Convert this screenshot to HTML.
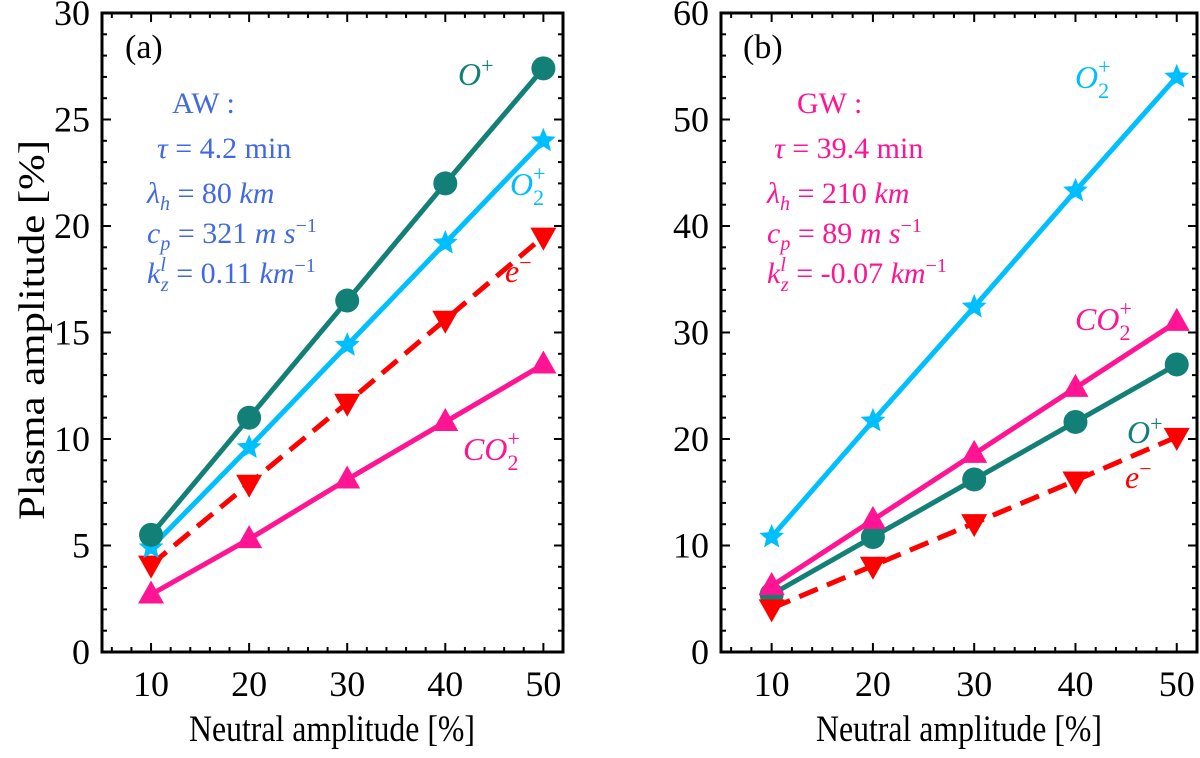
<!DOCTYPE html>
<html><head><meta charset="utf-8"><style>
body{margin:0;background:#fff;font-family:"Liberation Serif","DejaVu Serif",serif;}
svg, svg text{font-family:"Liberation Serif","DejaVu Serif",serif;}
</style></head><body>
<svg id="chart" width="1200" height="753" viewBox="0 0 1200 753" xmlns="http://www.w3.org/2000/svg" font-family="Liberation Serif, DejaVu Serif, serif">
<g id="pa"></g>
<g id="pb"></g>
<text x="0" y="0" font-size="37" text-anchor="middle" textLength="380" lengthAdjust="spacingAndGlyphs" transform="translate(44,330) rotate(-90)">Plasma amplitude [%]</text>
<text x="332" y="741" font-size="37" text-anchor="middle" textLength="286" lengthAdjust="spacingAndGlyphs">Neutral amplitude [%]</text>
<text x="959" y="741" font-size="37" text-anchor="middle" textLength="286" lengthAdjust="spacingAndGlyphs">Neutral amplitude [%]</text>
<g fill="#4169e1" font-size="30">
<text x="125" y="58" fill="#000" font-size="34">(a)</text>
<text x="172" y="113">AW :</text>
<text x="157" y="158"><tspan font-style="italic">τ</tspan> = 4.2 min</text>
<text x="147" y="203"><tspan font-style="italic">λ</tspan><tspan font-style="italic" font-size="20" dy="7">h</tspan><tspan dy="-7"> = 80 </tspan><tspan font-style="italic">km</tspan></text>
<text x="147" y="243"><tspan font-style="italic">c</tspan><tspan font-style="italic" font-size="20" dy="7">p</tspan><tspan dy="-7"> = 321 </tspan><tspan font-style="italic">m s</tspan><tspan font-size="20" dy="-11">−1</tspan></text>
<text x="147" y="283"><tspan font-style="italic">k</tspan><tspan font-style="italic" font-size="20" dy="-12">l</tspan><tspan font-style="italic" font-size="20" dx="-5" dy="20">z</tspan><tspan dy="-8"> = 0.11 </tspan><tspan font-style="italic">km</tspan><tspan font-size="20" dy="-11">−1</tspan></text>
</g>
<g fill="#ff1493" font-size="30">
<text x="743" y="58" fill="#000" font-size="34">(b)</text>
<text x="797" y="113">GW :</text>
<text x="774" y="158"><tspan font-style="italic">τ</tspan> = 39.4 min</text>
<text x="767" y="203"><tspan font-style="italic">λ</tspan><tspan font-style="italic" font-size="20" dy="7">h</tspan><tspan dy="-7"> = 210 </tspan><tspan font-style="italic">km</tspan></text>
<text x="767" y="243"><tspan font-style="italic">c</tspan><tspan font-style="italic" font-size="20" dy="7">p</tspan><tspan dy="-7"> = 89 </tspan><tspan font-style="italic">m s</tspan><tspan font-size="20" dy="-11">−1</tspan></text>
<text x="767" y="283"><tspan font-style="italic">k</tspan><tspan font-style="italic" font-size="20" dy="-12">l</tspan><tspan font-style="italic" font-size="20" dx="-5" dy="20">z</tspan><tspan dy="-8"> = -0.07 </tspan><tspan font-style="italic">km</tspan><tspan font-size="20" dy="-11">−1</tspan></text>
</g>
<g font-size="32" font-style="italic">
<text x="458" y="85" fill="#138078">O<tspan font-size="22" dy="-12" font-style="normal">+</tspan></text>
<text x="510" y="195" fill="#00bfff">O<tspan font-size="22" dy="10" font-style="normal">2</tspan><tspan font-size="22" dx="-11" dy="-24" font-style="normal">+</tspan></text>
<text x="505" y="282" fill="#ff0000">e<tspan font-size="22" dy="-12" font-style="normal">−</tspan></text>
<text x="463" y="460" fill="#ff1493">CO<tspan font-size="22" dy="10" font-style="normal">2</tspan><tspan font-size="22" dx="-11" dy="-24" font-style="normal">+</tspan></text>
<text x="1075" y="88" fill="#00bfff">O<tspan font-size="22" dy="10" font-style="normal">2</tspan><tspan font-size="22" dx="-11" dy="-24" font-style="normal">+</tspan></text>
<text x="1075" y="330" fill="#ff1493">CO<tspan font-size="22" dy="10" font-style="normal">2</tspan><tspan font-size="22" dx="-11" dy="-24" font-style="normal">+</tspan></text>
<text x="1127" y="443" fill="#138078">O<tspan font-size="22" dy="-12" font-style="normal">+</tspan></text>
<text x="1125" y="488" fill="#ff0000">e<tspan font-size="22" dy="-12" font-style="normal">−</tspan></text>
</g>
</svg>
<script>
const xCats = [10, 20, 30, 40, 50];
const xTicks = [10, 20, 30, 40, 50];
const aOplus = [5.5, 11, 16.5, 22, 27.4];
const aO2plus = [4.9, 9.6, 14.4, 19.2, 24];
const aElec = [4.1, 7.9, 11.7, 15.6, 19.5];
const aCO2plus = [2.7, 5.3, 8.1, 10.8, 13.5];
const aYTicks = [0, 5, 10, 15, 20, 25, 30];
const bO2plus = [10.8, 21.7, 32.4, 43.3, 54];
const bCO2plus = [6.2, 12.4, 18.6, 24.8, 31];
const bOplus = [5.4, 10.8, 16.2, 21.6, 27];
const bElec = [4.1, 8.1, 12.1, 16.1, 20.2];
const bYTicks = [0, 10, 20, 30, 40, 50, 60];

const NS = 'http://www.w3.org/2000/svg';
function mk(parent, tag, attrs){const e=document.createElementNS(NS,tag);for(const k in attrs)e.setAttribute(k,attrs[k]);parent.appendChild(e);return e;}
const C = {teal:'#138078', sky:'#00bfff', red:'#ff0000', pink:'#ff1493'};

function starPath(cx,cy,r){let d='';for(let i=0;i<10;i++){const rr=i%2?r*0.45:r;const a=-Math.PI/2+i*Math.PI/5;d+=(i?'L':'M')+(cx+rr*Math.cos(a)).toFixed(1)+','+(cy+rr*Math.sin(a)).toFixed(1);}return d+'Z';}

function panel(g, L, R, T, B, yMax, yTicks, yMinor, series, name){
  const x = v => L + (v-5)/(52-5)*(R-L);
  const y = v => B - v/yMax*(B-T);
  for(let v=6; v<=52; v+=2){
    const major = v%10===0;
    const len = major?9:5;
    const t1 = mk(g,'line',{x1:x(v),x2:x(v),y1:B,y2:B-len,stroke:'#000','stroke-width':2});
    
    
    mk(g,'line',{x1:x(v),x2:x(v),y1:T,y2:T+len,stroke:'#000','stroke-width':2});
  }
  for(let v=0; v<=yMax; v+=yMinor){
    const major = yTicks.includes(v);
    const len = major?9:5;
    const t = mk(g,'line',{x1:L,x2:L+len,y1:y(v),y2:y(v),stroke:'#000','stroke-width':2});
    
    
    mk(g,'line',{x1:R,x2:R-len,y1:y(v),y2:y(v),stroke:'#000','stroke-width':2});
  }
  xTicks.forEach(v=>{
    const t = mk(g,'text',{x:x(v),y:B+44,'font-size':36,'text-anchor':'middle'});
    t.textContent=v;
    
    
  });
  yTicks.forEach(v=>{
    const t = mk(g,'text',{x:L-12,y:y(v)+12,'font-size':36,'text-anchor':'end'});
    t.textContent=v;
    
    
  });
  series.forEach(s=>{
    const sg = mk(g,'g',{});
    
    
    const pts = xCats.map((c,i)=>x(c)+','+y(s.vals[i])).join(' ');
    const pl = mk(sg,'polyline',{points:pts,fill:'none',stroke:s.color,'stroke-width':5,'stroke-dasharray':s.dash?'20,10':'none'});
    
    
    xCats.forEach((c,i)=>{
      const cx=x(c), cy=y(s.vals[i]); let m;
      if(s.marker==='o') m=mk(sg,'circle',{cx,cy,r:12,fill:s.color});
      else if(s.marker==='*') m=mk(sg,'path',{d:starPath(cx,cy,13),fill:s.color});
      else if(s.marker==='^') m=mk(sg,'path',{d:`M${cx},${cy-14}L${cx+13},${cy+9}L${cx-13},${cy+9}Z`,fill:s.color});
      else m=mk(sg,'path',{d:`M${cx},${cy+14}L${cx+13},${cy-9}L${cx-13},${cy-9}Z`,fill:s.color});
      
      
    });
  });
  const f = mk(g,'rect',{x:L,y:T,width:R-L,height:B-T,fill:'none',stroke:'#000','stroke-width':3});
  
  
}
panel(document.getElementById('pa'),102,563,13,652,30,aYTicks,1,[
  {id:'co2plus',vals:aCO2plus,color:C.pink,marker:'^'},
  {id:'electron',vals:aElec,color:C.red,marker:'v',dash:true},
  {id:'o2plus',vals:aO2plus,color:C.sky,marker:'*'},
  {id:'oplus',vals:aOplus,color:C.teal,marker:'o'}
],'a');
panel(document.getElementById('pb'),721,1197,13,652,60,bYTicks,2,[
  {id:'o2plus',vals:bO2plus,color:C.sky,marker:'*'},
  {id:'oplus',vals:bOplus,color:C.teal,marker:'o'},
  {id:'co2plus',vals:bCO2plus,color:C.pink,marker:'^'},
  {id:'electron',vals:bElec,color:C.red,marker:'v',dash:true}
],'b');
</script>
</body></html>
